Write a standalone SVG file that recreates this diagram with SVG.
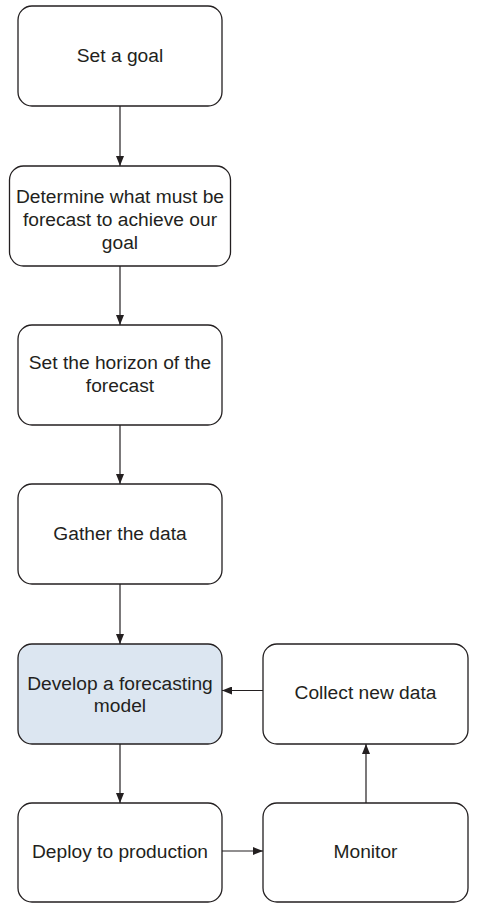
<svg xmlns="http://www.w3.org/2000/svg" width="483" height="912" viewBox="0 0 483 912">
<style>
.box{fill:#ffffff;stroke:#231f20;stroke-width:1.3}
.hl{fill:#dce6f1}
.t{font-family:"Liberation Sans",Arial,sans-serif;font-size:19.2px;fill:#231f20;text-anchor:middle}
.c{stroke:#231f20;stroke-width:1.2;fill:none}
</style>
<defs>
<marker id="ah" viewBox="0 0 10 8" refX="10" refY="4" markerWidth="10" markerHeight="8" markerUnits="userSpaceOnUse" orient="auto">
<path d="M0,0 L10,4 L0,8 Z" fill="#231f20"/>
</marker>
</defs>
<rect width="483" height="912" fill="#ffffff"/>
<g id="connectors">
<line class="c" x1="120" y1="106" x2="120" y2="166" marker-end="url(#ah)"/>
<line class="c" x1="120" y1="266" x2="120" y2="325" marker-end="url(#ah)"/>
<line class="c" x1="120" y1="425" x2="120" y2="484" marker-end="url(#ah)"/>
<line class="c" x1="120" y1="584" x2="120" y2="644" marker-end="url(#ah)"/>
<line class="c" x1="120" y1="744" x2="120" y2="803" marker-end="url(#ah)"/>
<line class="c" x1="222" y1="851" x2="263" y2="851" marker-end="url(#ah)"/>
<line class="c" x1="366" y1="803" x2="366" y2="744" marker-end="url(#ah)"/>
<line class="c" x1="263" y1="690.5" x2="222" y2="690.5" marker-end="url(#ah)"/>
</g>
<g id="n1"><rect class="box" x="18" y="6" width="204" height="100" rx="14"/><text class="t" x="120" y="61.5">Set a goal</text></g>
<g id="n2"><rect class="box" x="9.5" y="166" width="221" height="100" rx="14"/><text class="t" x="120" y="203">Determine what must be</text><text class="t" x="120" y="226">forecast to achieve our</text><text class="t" x="120" y="248.5">goal</text></g>
<g id="n3"><rect class="box" x="18" y="325" width="204" height="100" rx="14"/><text class="t" x="120" y="369">Set the horizon of the</text><text class="t" x="120" y="392">forecast</text></g>
<g id="n4"><rect class="box" x="18" y="484" width="204" height="100" rx="14"/><text class="t" x="120" y="539.5">Gather the data</text></g>
<g id="n5"><rect class="box hl" x="18" y="644" width="204" height="100" rx="14"/><text class="t" x="120" y="689.5">Develop a forecasting</text><text class="t" x="120" y="711.5">model</text></g>
<g id="n6"><rect class="box" x="263" y="644" width="205" height="100" rx="14"/><text class="t" x="365.5" y="698.5">Collect new data</text></g>
<g id="n7"><rect class="box" x="18" y="803" width="204" height="99" rx="14"/><text class="t" x="120" y="857.5">Deploy to production</text></g>
<g id="n8"><rect class="box" x="263" y="803" width="205" height="99" rx="14"/><text class="t" x="365.5" y="857.5">Monitor</text></g>
</svg>
